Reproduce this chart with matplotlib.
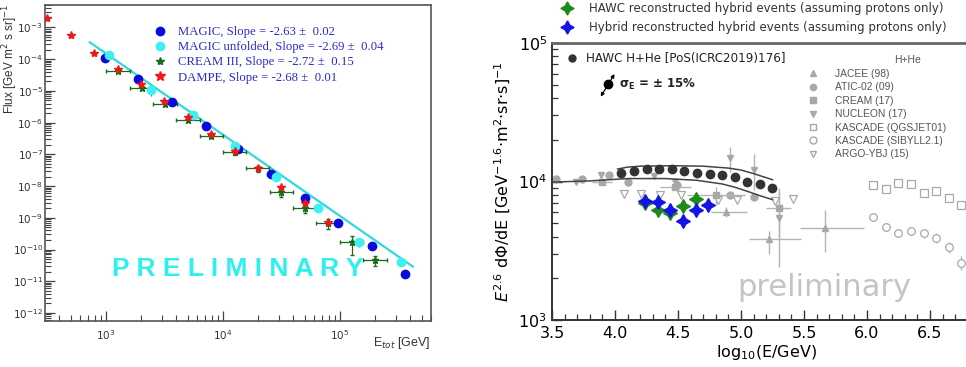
import numpy as np
import matplotlib
matplotlib.use("Agg")
import matplotlib.pyplot as plt
from matplotlib.lines import Line2D
from matplotlib.ticker import LogLocator, MultipleLocator, NullFormatter, FixedLocator

# ---- left panel: all-particle flux (MAGIC / CREAM / DAMPE) ----
magic_E = [980, 1890, 3640, 7100, 13500, 26000, 50000, 96600, 188000, 363000]
magic_flux = [1.1e-4, 2.4e-5, 4.5e-6, 8.1e-7, 1.5e-7, 2.4e-8, 4.1e-9, 6.9e-10, 1.3e-10, 1.7e-11]

unf_E = [1060, 2450, 5500, 12600, 28300, 64500, 146000, 331000]
unf_flux = [1.4e-4, 1.05e-5, 1.7e-6, 1.8e-7, 1.9e-8, 2.0e-9, 1.7e-10, 4.2e-11]
unf_yerr_frac = [0.1, 0.35, 0.1, 0.1, 0.1, 0.1, 0.3, 0.3]

cream_E = [1270, 2020, 3190, 5050, 7950, 12600, 19800, 31600, 50000, 79000, 126000, 200000]
cream_flux = [4.4e-5, 1.25e-5, 3.9e-6, 1.25e-6, 3.9e-7, 1.15e-7, 3.6e-8, 6.6e-9, 2.1e-9, 6.8e-10, 1.7e-10, 4.8e-11]
cream_yerr_frac = [0.15, 0.15, 0.15, 0.15, 0.15, 0.15, 0.2, 0.3, 0.3, 0.35, 0.6, 0.35]
cream_bin_dex = 0.1

dampe_E = [317, 500, 795, 1260, 2000, 3160, 5010, 7940, 12600, 19900, 31600, 50100, 79400]
dampe_flux = [2.0e-3, 5.9e-4, 1.6e-4, 5.0e-5, 1.6e-5, 4.7e-6, 1.5e-6, 4.3e-7, 1.26e-7, 3.8e-8, 9.3e-9, 2.9e-9, 7.4e-10]

fit_E = [730, 4.2e5]
fit_flux = [3.4e-4, 2.9e-11]

left_labels = ["MAGIC, Slope = -2.63 \u00b1  0.02",
               "MAGIC unfolded, Slope = -2.69 \u00b1  0.04",
               "CREAM III, Slope = -2.72 \u00b1  0.15",
               "DAMPE, Slope = -2.68 \u00b1  0.01"]
left_xticks = [1e3, 1e4, 1e5]
left_yticks = [1e-12, 1e-11, 1e-10, 1e-9, 1e-8, 1e-7, 1e-6, 1e-5, 1e-4, 1e-3]

# ---- right panel: H+He spectrum, E^2.6 weighted ----
hawc_x = [4.05, 4.15, 4.25, 4.35, 4.45, 4.55, 4.65, 4.75, 4.85, 4.95, 5.05, 5.15, 5.25]
hawc_y = [11600, 12000, 12300, 12400, 12300, 12000, 11500, 11300, 11100, 10800, 10000, 9600, 8950]
band_hi_x = [4.02, 4.1, 4.2, 4.45, 4.7, 4.9, 5.0, 5.1, 5.18, 5.25]
band_hi_y = [12300, 12700, 12900, 13000, 12900, 12500, 12100, 11400, 10800, 10300]
band_lo_x = [3.5, 3.8, 4.1, 4.4, 4.65, 4.85, 4.95, 5.05, 5.15, 5.25]
band_lo_y = [9900, 10100, 10500, 10500, 10200, 9600, 9100, 8500, 7900, 7400]

green_x = [4.24, 4.34, 4.44, 4.54, 4.64]
green_y = [7050, 6200, 5950, 6650, 7450]
blue_x = [4.24, 4.34, 4.44, 4.54, 4.64, 4.74]
blue_y = [7250, 7080, 6220, 5180, 6250, 6770]

jacee_x = [4.88, 5.22, 5.67]
jacee_y = [6050, 3820, 4590]
jacee_xlo = [0.12, 0.16, 0.2]
jacee_xhi = [0.17, 0.26, 0.31]
jacee_ylo = [500, 800, 1500]
jacee_yhi = [500, 600, 1600]

atic_x = [3.53, 3.74, 3.95, 4.10, 4.49, 4.91, 5.10]
atic_y = [10400, 10400, 11200, 10000, 9460, 8000, 7700]

cream17_x = [3.90, 4.48, 4.80, 5.30]
cream17_y = [10000, 9200, 8000, 6410]
cream17_xerr = [0.08, 0.12, 0.23, 0.1]
cream17_yerr = [400, 500, 1200, 2500]

nucleon_x = [3.69, 3.89, 4.31, 4.48, 4.91, 5.10, 5.30]
nucleon_y = [10000, 11200, 10900, 10000, 14800, 12200, 5420]
nucleon_yerr = [300, 400, 500, 600, 3000, 3500, 3000]

argo_x = [4.07, 4.21, 4.36, 4.52, 4.82, 4.97, 5.27, 5.41]
argo_y = [8100, 8100, 8000, 8000, 7350, 7350, 7250, 7450]

kascade_x = [6.05, 6.15, 6.25, 6.35, 6.45, 6.55, 6.65, 6.75]
kq_y = [9400, 8790, 9720, 9570, 8230, 8550, 7650, 6770]
ks_y = [5510, 4710, 4260, 4410, 4220, 3920, 3370, 2580]
ks_yerr = [350, 300, 250, 300, 300, 300, 300, 300]

sigma_x, sigma_y = 3.947, 50400
sigma_lo = (3.875, 39400)
sigma_hi = (4.008, 62100)

fig = plt.figure(figsize=(9.66, 3.67), dpi=100)

# ================= left panel =================
ax = fig.add_axes([0.0466, 0.1253, 0.3996, 0.861])
ax.set_xscale("log")
ax.set_yscale("log")
ax.set_xlim(302, 6.0e5)
ax.set_ylim(5.6e-13, 5.1e-3)

blue = "#0a0adc"
cyan = "#3ff0f0"
green = "#1a6a1a"
red = "#ee1818"

ax.plot(fit_E, fit_flux, color="#30d8e0", lw=1.6, zorder=2)

cE = np.array(cream_E, dtype=float)
cF = np.array(cream_flux)
xlo = cE * (1 - 10 ** -cream_bin_dex)
xhi = cE * (10 ** cream_bin_dex - 1)
ax.errorbar(cE, cF, xerr=[xlo, xhi], yerr=cF * np.array(cream_yerr_frac),
            fmt="*", color=green, ms=5, elinewidth=0.9, capsize=1.5, zorder=3)

ax.plot(magic_E, magic_flux, "o", color=blue, ms=6, zorder=4)
uF = np.array(unf_flux)
ax.errorbar(unf_E, unf_flux, yerr=uF * np.array(unf_yerr_frac), fmt="o",
            color=cyan, ms=6, elinewidth=0.8, ecolor="#5050c8", zorder=4)
ax.plot(dampe_E, dampe_flux, "*", color=red, ms=6, zorder=5)

ax.text(0.5, 0.165, "P R E L I M I N A R Y", transform=ax.transAxes,
        ha="center", va="center", color="#2ff0f0", fontsize=19,
        fontweight="bold", family="Liberation Sans")

ax.xaxis.set_major_locator(FixedLocator(left_xticks))
ax.xaxis.set_minor_locator(LogLocator(base=10, subs=np.arange(2, 10), numticks=50))
ax.yaxis.set_major_locator(FixedLocator(left_yticks))
ax.yaxis.set_minor_locator(LogLocator(base=10, subs=np.arange(2, 10), numticks=50))
ax.xaxis.set_minor_formatter(NullFormatter())
ax.yaxis.set_minor_formatter(NullFormatter())
ax.tick_params(which="both", direction="in", colors="#444", labelcolor="#333", labelsize=7.5)
ax.tick_params(axis="y", pad=1.5)
ax.tick_params(axis="x", pad=5)
ax.tick_params(which="major", length=7, width=0.9)
ax.tick_params(which="minor", length=4, width=0.8)
for s in ax.spines.values():
    s.set_color("#555")
    s.set_linewidth(1.2)

handles = [Line2D([], [], ls="", marker="o", color=blue, ms=6),
           Line2D([], [], ls="", marker="o", color=cyan, ms=6),
           Line2D([], [], ls="", marker="*", color=green, ms=6),
           Line2D([], [], ls="", marker="*", color=red, ms=7)]
leg = ax.legend(handles, left_labels, loc="upper left",
                bbox_to_anchor=(154 / 966, 1 - 26 / 367), bbox_transform=fig.transFigure,
                frameon=False, borderpad=0, borderaxespad=0, handlelength=1.0,
                handletextpad=0.9, labelspacing=0.25,
                prop={"family": "Liberation Serif", "size": 9.2})
for t in leg.get_texts():
    t.set_color("#2b2bc8")

fig.text(10 / 966, 1 - 4 / 367, "Flux [GeV m$^2$ s sr]$^{-1}$", rotation=90,
         ha="center", va="top", fontsize=8.5, family="Liberation Sans", color="#333")
fig.text(431 / 966, 1 - 343 / 367, "E$_{tot}$ [GeV]", ha="right", va="center",
         fontsize=9, family="Liberation Sans", color="#333")

# ================= right panel =================
ax2 = fig.add_axes([552 / 966, 1 - 320 / 367, 3.4 * 126 / 966, 277 / 367])
ax2.set_yscale("log")
ax2.set_xlim(3.5, 6.9)
ax2.set_ylim(1e3, 1e5)

gray = "#a8a8a8"
egray = "#b4b4b4"

ax2.plot(band_hi_x, band_hi_y, color="#444", lw=1.1, zorder=3)
ax2.plot(band_lo_x, band_lo_y, color="#444", lw=1.1, zorder=3)

ax2.errorbar(jacee_x, jacee_y, xerr=[jacee_xlo, jacee_xhi], yerr=[jacee_ylo, jacee_yhi],
             fmt="^", color=gray, ecolor=egray, ms=5, elinewidth=1, zorder=2)
ax2.plot(atic_x, atic_y, "o", color=gray, ms=5, zorder=2)
ax2.errorbar(cream17_x, cream17_y, xerr=cream17_xerr, yerr=cream17_yerr, fmt="s",
             color=gray, ecolor=egray, ms=4.5, elinewidth=1, zorder=2)
ax2.errorbar(nucleon_x, nucleon_y, yerr=nucleon_yerr, fmt="v", color=gray,
             ecolor=egray, ms=5, elinewidth=1, zorder=2)
ax2.plot(argo_x, argo_y, "v", mfc="white", mec=gray, ms=6, mew=0.9, ls="", zorder=2)
ax2.plot(kascade_x, kq_y, "s", mfc="white", mec=gray, ms=6, mew=0.9, ls="", zorder=2)
ax2.errorbar(kascade_x, ks_y, yerr=ks_yerr, fmt="o", mfc="white", mec=gray,
             ecolor=egray, ms=5.5, mew=0.9, elinewidth=1, zorder=2)

ax2.plot(hawc_x, hawc_y, "o", color="#333", ms=6, ls="", zorder=4)

star4 = (4, 1, 0)
ax2.plot(green_x, green_y, marker=star4, color="#1c8a1c", ms=10, ls="", zorder=5)
ax2.plot(blue_x, blue_y, marker=star4, color="#1414e6", ms=10, ls="", zorder=6)

ax2.annotate("", xy=sigma_hi, xytext=sigma_lo,
             arrowprops=dict(arrowstyle="<|-|>", color="black", lw=0.9, mutation_scale=5))
ax2.plot(sigma_x, sigma_y, "o", color="black", ms=6)
ax2.text(4.03, sigma_y, "\u03c3$_\\mathbf{E}$ = \u00b1 15%", fontsize=8.5,
         fontweight="bold", va="center", ha="left", color="#222")

ax2.xaxis.set_major_locator(MultipleLocator(0.5))
ax2.xaxis.set_minor_locator(MultipleLocator(0.1))
ax2.xaxis.set_major_formatter(plt.FuncFormatter(lambda v, p: "%.1f" % v))
ax2.yaxis.set_major_locator(FixedLocator([1e3, 1e4, 1e5]))
ax2.yaxis.set_minor_locator(LogLocator(base=10, subs=np.arange(2, 10), numticks=30))
ax2.yaxis.set_minor_formatter(NullFormatter())
ax2.tick_params(which="both", direction="in", colors="#333", labelcolor="black", labelsize=11.5)
ax2.tick_params(which="major", length=7, width=1)
ax2.tick_params(which="minor", length=4, width=0.9)
ax2.tick_params(axis="x", pad=4.5)
for name, s in ax2.spines.items():
    s.set_color("#333")
    s.set_linewidth(1.4)
ax2.spines["top"].set_color("#666")
ax2.spines["top"].set_linewidth(2)

ax2.set_xlabel("log$_{10}$(E/GeV)", fontsize=11.5, labelpad=1)
ax2.set_ylabel("$E^{2.6}$ d\u03a6/dE [GeV$^{-1.6}$\u00b7m$^2$\u00b7sr\u00b7s]$^{-1}$",
               fontsize=11.5, labelpad=4)

fig.text(824 / 966, 1 - 288 / 367, "preliminary", ha="center", va="center",
         fontsize=22, color="#c4c4c4")

# HAWC H+He legend inside the axes
hawc_leg = ax2.legend([Line2D([], [], ls="", marker="o", color="#333", ms=5)],
                      ["HAWC H+He [PoS(ICRC2019)176]"], loc="upper left",
                      bbox_to_anchor=(566 / 966, 1 - 52 / 367), bbox_transform=fig.transFigure,
                      frameon=False, borderpad=0, borderaxespad=0, handlelength=1.0,
                      handletextpad=0.7, fontsize=8.6)
for t in hawc_leg.get_texts():
    t.set_color("#222")
ax2.add_artist(hawc_leg)

# H+He comparison legend
hh_handles = [Line2D([], [], ls="", marker="^", color=gray, ms=4.5),
              Line2D([], [], ls="", marker="o", color=gray, ms=4.5),
              Line2D([], [], ls="", marker="s", color=gray, ms=4),
              Line2D([], [], ls="", marker="v", color=gray, ms=4.5),
              Line2D([], [], ls="", marker="s", mfc="white", mec=gray, ms=5),
              Line2D([], [], ls="", marker="o", mfc="white", mec=gray, ms=5),
              Line2D([], [], ls="", marker="v", mfc="white", mec=gray, ms=5)]
hh_labels = ["JACEE (98)", "ATIC-02 (09)", "CREAM (17)", "NUCLEON (17)",
             "KASCADE (QGSJET01)", "KASCADE (SIBYLL2.1)", "ARGO-YBJ (15)"]
hh = ax2.legend(hh_handles, hh_labels, loc="upper left",
                bbox_to_anchor=(807 / 966, 1 - 69 / 367), bbox_transform=fig.transFigure,
                frameon=False, borderpad=0, borderaxespad=0, handlelength=1.2,
                handletextpad=1.55, labelspacing=0.33,
                prop={"family": "Liberation Sans", "size": 7.4})
for t in hh.get_texts():
    t.set_color("#555")
fig.text(908 / 966, 1 - 60 / 367, "H+He", ha="center", va="center", fontsize=7.5,
         family="Liberation Sans", color="#555")

# legend above the right panel
top_leg = fig.legend([Line2D([], [], ls="", marker=star4, color="#1c8a1c", ms=9.5),
                      Line2D([], [], ls="", marker=star4, color="#1414e6", ms=9.5)],
                     ["HAWC reconstructed hybrid events (assuming protons only)",
                      "Hybrid reconstructed hybrid events (assuming protons only)"],
                     loc="upper left", bbox_to_anchor=(559 / 966, 1 - 2 / 367),
                     frameon=False, borderpad=0, borderaxespad=0, handlelength=1.4,
                     handletextpad=1.1, labelspacing=0.5, fontsize=8.5)
for t in top_leg.get_texts():
    t.set_color("#333")

fig.savefig("out.png", dpi=100)
